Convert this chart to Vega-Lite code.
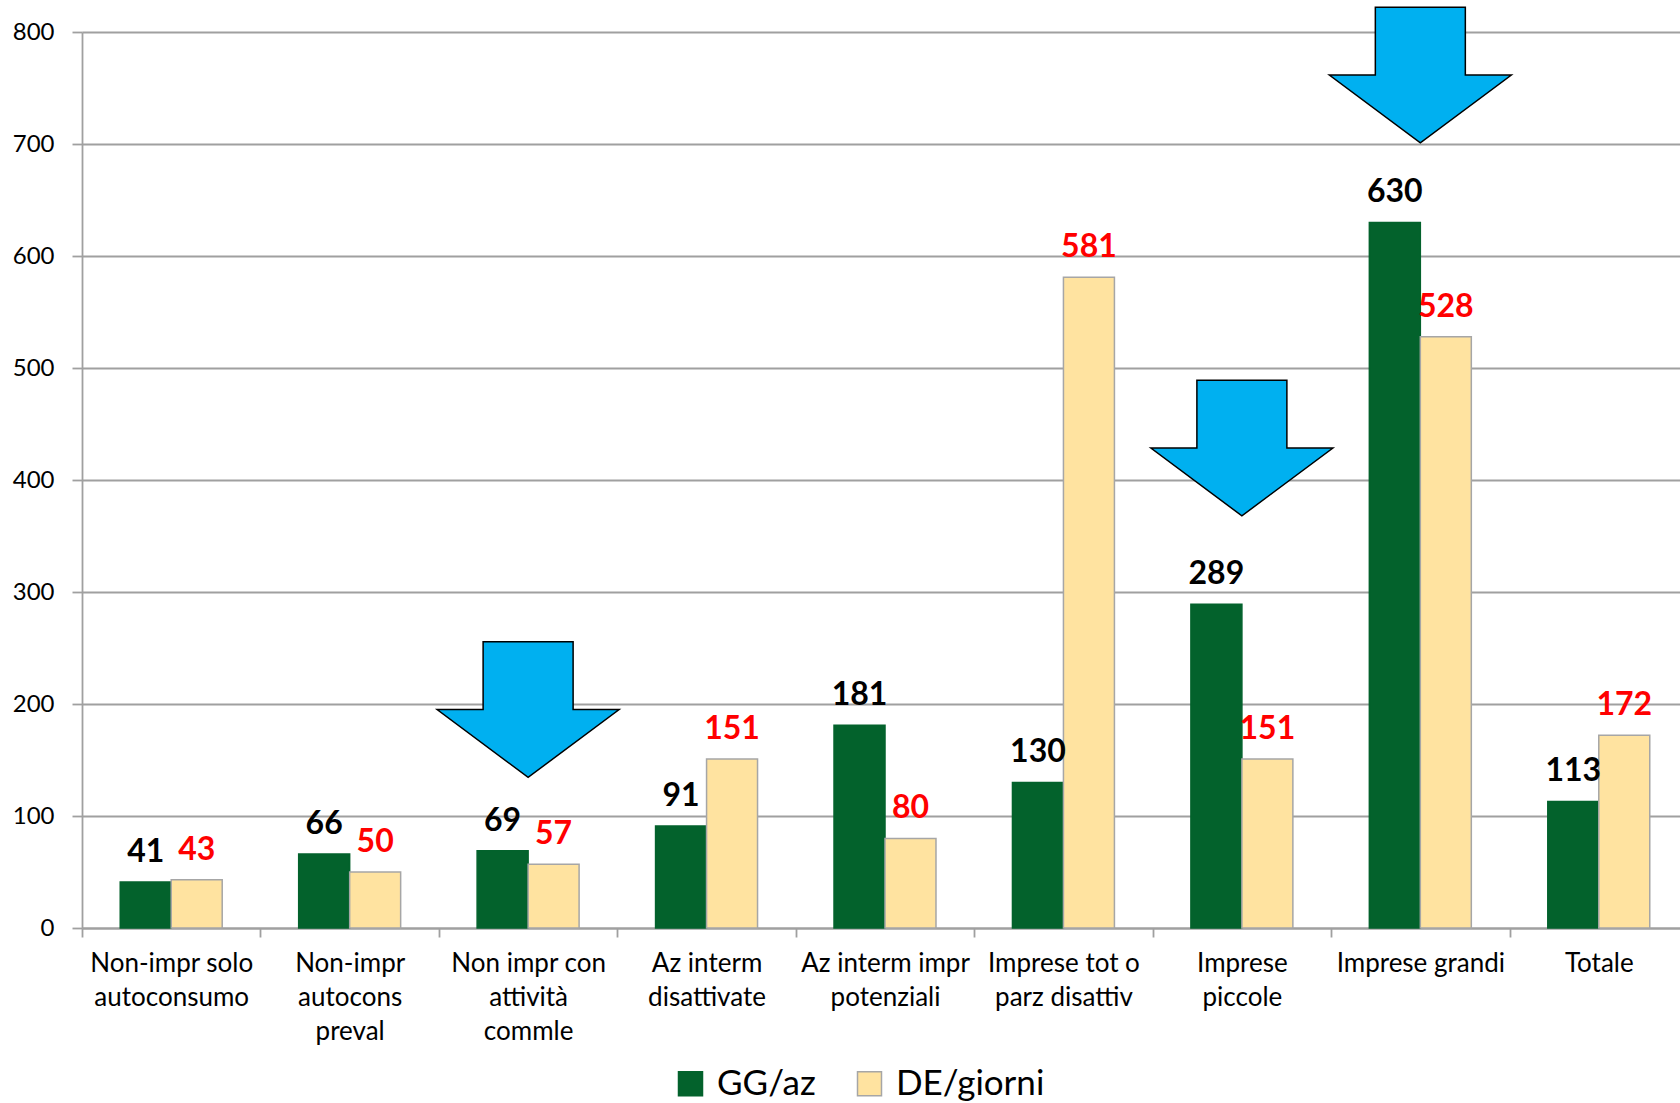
{
  "$schema": "https://vega.github.io/schema/vega-lite/v6.json",
  "width": 1598,
  "height": 896,
  "autosize": {"type": "none"},
  "padding": {"left": 82, "top": 32, "right": 0, "bottom": 175},
  "background": "white",
  "config": {"view": {"stroke": null}, "font": "Lato"},
  "datasets": {
    "bars": [
      {"categoria": "Non-impr solo|autoconsumo", "serie": "GG/az", "valore": 41},
      {"categoria": "Non-impr solo|autoconsumo", "serie": "DE/giorni", "valore": 43},
      {"categoria": "Non-impr|autocons|preval", "serie": "GG/az", "valore": 66},
      {"categoria": "Non-impr|autocons|preval", "serie": "DE/giorni", "valore": 50},
      {"categoria": "Non impr con|attività|commle", "serie": "GG/az", "valore": 69},
      {"categoria": "Non impr con|attività|commle", "serie": "DE/giorni", "valore": 57},
      {"categoria": "Az interm|disattivate", "serie": "GG/az", "valore": 91},
      {"categoria": "Az interm|disattivate", "serie": "DE/giorni", "valore": 151},
      {"categoria": "Az interm impr|potenziali", "serie": "GG/az", "valore": 181},
      {"categoria": "Az interm impr|potenziali", "serie": "DE/giorni", "valore": 80},
      {"categoria": "Imprese tot o|parz disattiv", "serie": "GG/az", "valore": 130},
      {"categoria": "Imprese tot o|parz disattiv", "serie": "DE/giorni", "valore": 581},
      {"categoria": "Imprese|piccole", "serie": "GG/az", "valore": 289},
      {"categoria": "Imprese|piccole", "serie": "DE/giorni", "valore": 151},
      {"categoria": "Imprese grandi", "serie": "GG/az", "valore": 630},
      {"categoria": "Imprese grandi", "serie": "DE/giorni", "valore": 528},
      {"categoria": "Totale", "serie": "GG/az", "valore": 113},
      {"categoria": "Totale", "serie": "DE/giorni", "valore": 172}
    ],
    "arrows": [
      {"categoria": "Non impr con|attività|commle", "valore": 195},
      {"categoria": "Imprese|piccole", "valore": 428.5},
      {"categoria": "Imprese grandi", "valore": 761.5}
    ]
  },
  "layer": [
    {
      "data": {"name": "bars"},
      "mark": {"type": "bar", "strokeWidth": 1.5},
      "encoding": {
        "x": {
          "field": "categoria", "type": "nominal", "sort": null,
          "scale": {
            "domain": ["Non-impr solo|autoconsumo", "Non-impr|autocons|preval", "Non impr con|attività|commle", "Az interm|disattivate", "Az interm impr|potenziali", "Imprese tot o|parz disattiv", "Imprese|piccole", "Imprese grandi", "Totale"],
            "range": [0, 1606], "paddingInner": 0, "paddingOuter": 0
          },
          "axis": {
            "title": null, "labelAngle": 0, "tickOffset": -89.22, "labelOffset": 89.22,
            "domainColor": "#A0A0A0", "domainWidth": 1.8, "tickColor": "#A0A0A0", "tickWidth": 1.8, "tickSize": 9,
            "labelFont": "Lato", "labelFontSize": 26, "labelColor": "#000000", "labelLineHeight": 34,
            "labelPadding": 13, "labelExpr": "split(datum.label, '|')", "labelLimit": 400, "labelOverlap": false,
            "labelAlign": "center", "grid": false
          }
        },
        "xOffset": {"field": "serie", "type": "nominal", "sort": ["GG/az", "DE/giorni"], "scale": {"domain": ["GG/az", "DE/giorni"], "paddingInner": 0, "paddingOuter": 0.75}},
        "y": {
          "field": "valore", "type": "quantitative",
          "scale": {"domain": [0, 800], "nice": false},
          "axis": {
            "title": null, "values": [0, 100, 200, 300, 400, 500, 600, 700, 800], "grid": true,
            "gridColor": "#A0A0A0", "gridWidth": 1.8, "domainColor": "#A0A0A0", "domainWidth": 1.8,
            "tickColor": "#A0A0A0", "tickWidth": 1.8, "tickSize": 10, "labelFont": "Lato",
            "labelFontSize": 24, "labelPadding": 18, "labelColor": "#000000"
          }
        },
        "fill": {
          "field": "serie", "type": "nominal", "sort": ["GG/az", "DE/giorni"],
          "scale": {"domain": ["GG/az", "DE/giorni"], "range": ["#03622C", "#FFE3A0"]},
          "legend": {"orient": "none", "legendX": 591, "legendY": 1034, "direction": "horizontal", "title": null, "labelFont": "Lato", "labelFontSize": 35, "labelColor": "#000000", "symbolType": "square", "symbolSize": 576, "symbolStrokeWidth": 1.5, "labelOffset": 9, "columnPadding": 36, "symbolOpacity": 1}
        },
        "stroke": {
          "field": "serie", "type": "nominal", "sort": ["GG/az", "DE/giorni"],
          "scale": {"domain": ["GG/az", "DE/giorni"], "range": ["#03622C", "#A6A6A6"]},
          "legend": {"orient": "none", "legendX": 591, "legendY": 1034, "direction": "horizontal", "title": null, "labelFont": "Lato", "labelFontSize": 35, "labelColor": "#000000", "symbolType": "square", "symbolSize": 576, "symbolStrokeWidth": 1.5, "labelOffset": 9, "columnPadding": 36, "symbolOpacity": 1}
        }
      }
    },
    {
      "data": {"name": "bars"},
      "mark": {"type": "text", "font": "Lato", "fontSize": 32, "fontWeight": "bold", "baseline": "alphabetic", "align": "center", "dy": -20},
      "encoding": {
        "x": {"field": "categoria", "type": "nominal", "sort": null},
        "xOffset": {"field": "serie", "type": "nominal", "sort": ["GG/az", "DE/giorni"]},
        "y": {"field": "valore", "type": "quantitative"},
        "text": {"field": "valore", "type": "quantitative"},
        "color": {"condition": {"test": "datum.serie === 'GG/az'", "value": "#000000"}, "value": "#FF0000"}
      }
    },
    {
      "data": {"name": "arrows"},
      "mark": {"type": "point", "shape": "M -0.4945 -0.7445 L 0.4945 -0.7445 L 0.4945 0 L 1 0 L 0 0.7445 L -1 0 L -0.4945 0 Z", "size": 33124, "filled": true, "fill": "#00B0F0", "stroke": "#000000", "strokeWidth": 1.5, "opacity": 1},
      "encoding": {
        "x": {"field": "categoria", "type": "nominal", "sort": null},
        "y": {"field": "valore", "type": "quantitative"}
      }
    }
  ]
}
